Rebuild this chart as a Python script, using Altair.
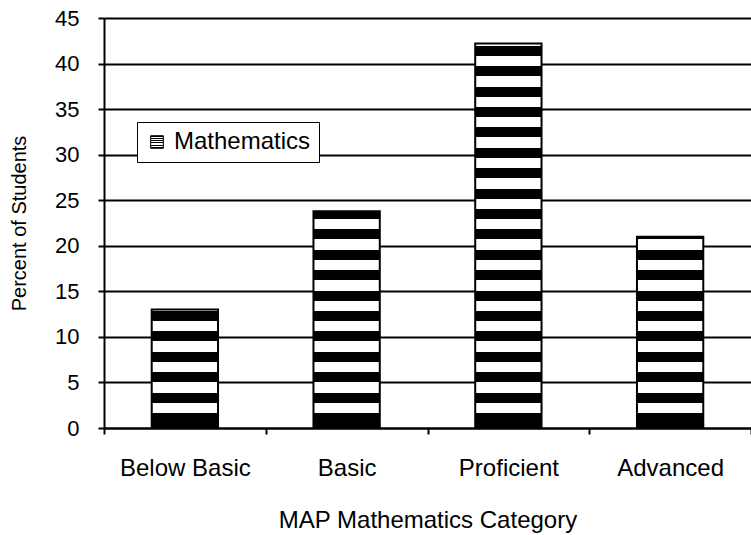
import altair as alt
import pandas as pd

# MAP mathematics results by category
categories = ["Below Basic", "Basic", "Proficient", "Advanced"]
percents = [13.0, 23.8, 42.2, 21.0]
series_name = "Mathematics"

df = pd.DataFrame({"category": categories, "percent": percents, "series": series_name})

PLOT_W, PLOT_H = 647, 410
Y_MAX = 45
FONT = "Liberation Sans"

# horizontal stripe fill: fixed pixel pitch measured from the baseline
PITCH, BLACK_LO, BLACK_HI, BASE_BAND = 20.4, 5.0, 15.0, 15.0


def stripe_fill(value):
    h = value / Y_MAX * PLOT_H
    bands = [(0.0, BASE_BAND)]
    k = 0
    while True:
        lo, hi = PITCH * k + BLACK_LO, PITCH * k + BLACK_HI
        if lo >= h:
            break
        bands.append((max(lo, 0.0), min(hi, h)))
        k += 1
    stops = []
    # offsets run from top (0) to bottom (1)
    for lo, hi in sorted(bands, key=lambda b: -b[1]):
        top = max(0.0, 1 - hi / h)
        bot = min(1.0, 1 - lo / h)
        stops += [
            alt.GradientStop(color="white", offset=top),
            alt.GradientStop(color="black", offset=top),
            alt.GradientStop(color="black", offset=bot),
            alt.GradientStop(color="white", offset=bot),
        ]
    return alt.LinearGradient(gradient="linear", stops=stops, x1=0, x2=0, y1=0, y2=1)


x_enc = alt.X(
    "category:N",
    sort=categories,
    title="MAP Mathematics Category",
    scale=alt.Scale(paddingInner=0, paddingOuter=0),
    axis=alt.Axis(
        tickBand="extent",
        labelAngle=0,
        labelFont=FONT,
        labelFontSize=24,
        labelColor="black",
        labelPadding=22,
        tickColor="black",
        tickWidth=2,
        tickSize=6,
        domainColor="black",
        domainWidth=2,
        titleFont=FONT,
        titleFontSize=24,
        titleFontWeight="normal",
        titleColor="black",
        titlePadding=28,
        grid=False,
    ),
)

y_enc = alt.Y(
    "percent:Q",
    title="Percent of Students",
    scale=alt.Scale(domain=[0, Y_MAX], nice=False),
    axis=alt.Axis(
        values=list(range(0, 50, 5)),
        labelFont=FONT,
        labelFontSize=22,
        labelColor="black",
        labelPadding=19,
        tickColor="black",
        tickWidth=2,
        tickSize=6,
        domainColor="black",
        domainWidth=2,
        grid=True,
        gridColor="black",
        gridWidth=2,
        gridOpacity=1,
        titleFont=FONT,
        titleFontSize=20,
        titleFontWeight="normal",
        titleColor="black",
        titlePadding=25,
    ),
)

stroke_enc = alt.Stroke(
    "series:N",
    scale=alt.Scale(range=["black"]),
    legend=alt.Legend(
        title=None,
        orient="none",
        legendX=33,
        legendY=104,
        symbolType="square",
        symbolFillColor="black",
        symbolStrokeColor="black",
        symbolSize=160,
        symbolStrokeWidth=1,
        labelFont=FONT,
        labelFontSize=24,
        labelColor="black",
        labelOffset=5,
        fillColor="white",
        strokeColor="black",
        padding=8,
    ),
)

layers = []
for cat, val in zip(categories, percents):
    layers.append(
        alt.Chart(df)
        .transform_filter(alt.datum.category == cat)
        .mark_bar(fill=stripe_fill(val), strokeWidth=2, width=alt.RelativeBandSize(0.41))
        .encode(x=x_enc, y=y_enc, stroke=stroke_enc)
    )

chart = (
    alt.layer(*layers)
    .properties(
        width=PLOT_W,
        height=PLOT_H,
        autosize=alt.AutoSizeParams(type="none"),
        padding={"left": 104, "top": 18, "right": 0, "bottom": 107},
        background="white",
    )
    .configure_view(stroke=None)
)

chart.save("out.html", embed_options={"renderer": "svg", "actions": False})
